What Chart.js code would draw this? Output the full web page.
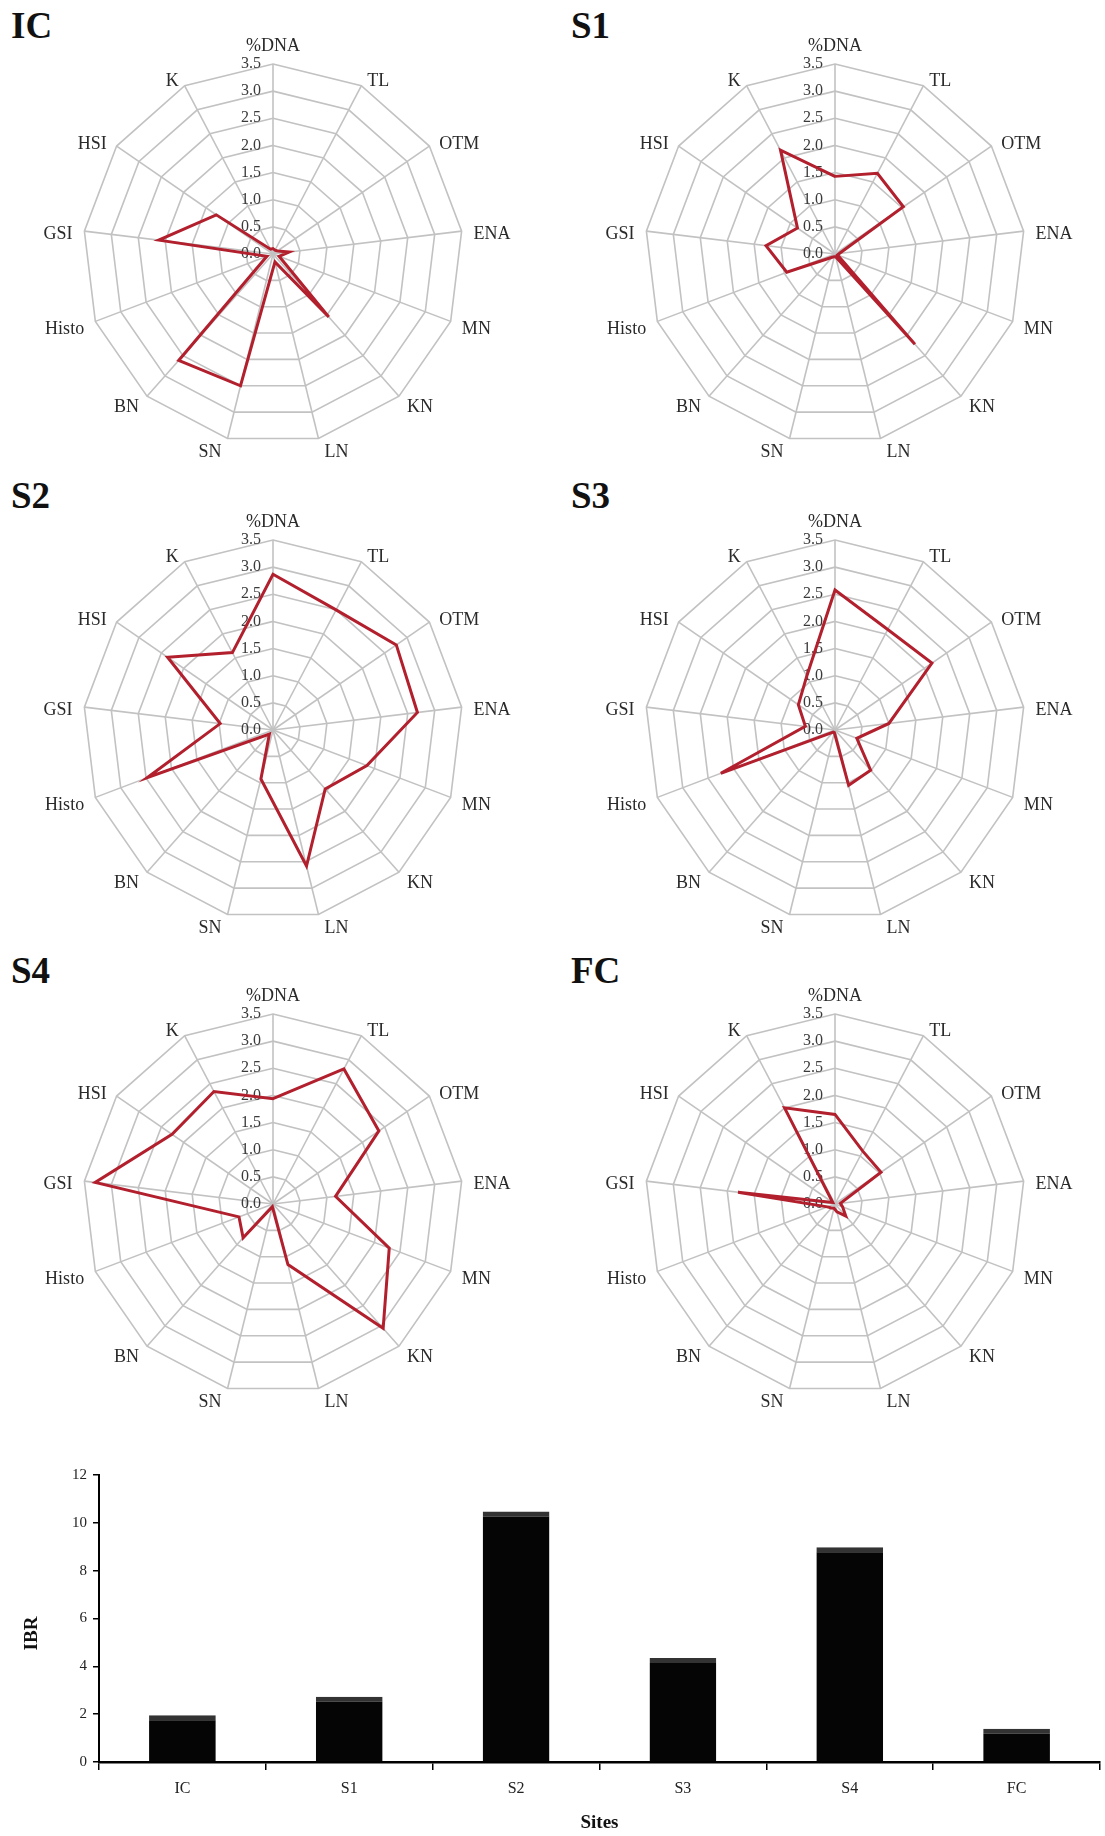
<!DOCTYPE html>
<html>
<head>
<meta charset="utf-8">
<script src="https://cdn.jsdelivr.net/npm/chart.js@4.4.1/dist/chart.umd.min.js"></script>
<style>
  body { margin: 0; background: #fff; }
  #page { position: relative; width: 1105px; height: 1836px; overflow: hidden; background: #fff; }
  canvas { position: absolute; }
  .tag { position: absolute; font: bold 37px "Liberation Serif", "Times New Roman", serif; line-height: 37px; color: #111; }
</style>
</head>
<body>
<div id="page">
  <div class="tag" style="left:11px;top:7px">IC</div>
  <div class="tag" style="left:571px;top:7px">S1</div>
  <div class="tag" style="left:11px;top:477px">S2</div>
  <div class="tag" style="left:571px;top:477px">S3</div>
  <div class="tag" style="left:11px;top:952px">S4</div>
  <div class="tag" style="left:571px;top:952px">FC</div>

  <canvas id="rIC" width="552" height="476" style="left:0;top:0"></canvas>
  <canvas id="rS1" width="553" height="476" style="left:552px;top:0"></canvas>
  <canvas id="rS2" width="552" height="476" style="left:0;top:476px"></canvas>
  <canvas id="rS3" width="553" height="476" style="left:552px;top:476px"></canvas>
  <canvas id="rS4" width="552" height="476" style="left:0;top:952px"></canvas>
  <canvas id="rFC" width="553" height="476" style="left:552px;top:952px"></canvas>

  <canvas id="ibr" width="1105" height="396" style="left:0;top:1440px"></canvas>
</div>
<script>
// radar axes (biomarkers), clockwise from the top
const axes = ['%DNA', 'TL', 'OTM', 'ENA', 'MN', 'KN', 'LN', 'SN', 'BN', 'Histo', 'GSI', 'HSI', 'K'];
const rTicks = [0, 0.5, 1, 1.5, 2, 2.5, 3, 3.5];

// star plot values per site (same order as axes)
const IC = [0.10, 0.08, 0.10, 0.30, 0.12, 1.55, 0.15, 2.50, 2.62, 0.12, 2.12, 1.27, 0.10];
const S1 = [1.43, 1.68, 1.53, 0.08, 0.05, 2.22, 0.05, 0.05, 0.08, 0.95, 1.28, 0.84, 2.16];
const S2 = [2.87, 2.50, 2.76, 2.68, 1.85, 1.45, 2.58, 0.93, 0.10, 2.48, 0.98, 2.36, 1.61];
const S3 = [2.58, 2.09, 2.17, 1.00, 0.43, 0.99, 1.05, 0.05, 0.05, 2.25, 0.55, 0.82, 1.12];
const S4 = [1.94, 2.81, 2.37, 1.16, 2.29, 3.06, 1.15, 0.05, 0.83, 0.67, 3.30, 2.26, 2.34];
const FC = [1.65, 1.10, 1.03, 0.10, 0.15, 0.30, 0.15, 0.08, 0.10, 0.15, 1.80, 0.05, 2.00];

// IBR bar chart
const sites = ['IC', 'S1', 'S2', 'S3', 'S4', 'FC'];
const ibr = [1.95, 2.73, 10.47, 4.35, 8.98, 1.39];

const serif = '"Liberation Serif", "Times New Roman", serif';

// tick values on the vertical axis and the axis names round the web
const radarText = {
  id: 'radarText',
  beforeDatasetsDraw(chart) {
    const r = chart.scales.r;
    const ctx = chart.ctx;
    ctx.save();
    ctx.fillStyle = '#3a3a3a';
    ctx.font = '16px ' + serif;
    ctx.textAlign = 'right';
    ctx.textBaseline = 'middle';
    rTicks.forEach(v => {
      const d = r.getDistanceFromCenterForValue(v);
      ctx.fillText(v.toFixed(1), r.xCenter - 12, r.yCenter - d);
    });

    ctx.font = '18px ' + serif;
    ctx.fillStyle = '#2a2a2a';
    axes.forEach((name, i) => {
      const end = r.getPointPosition(i, r.drawingArea);
      const a = r.getIndexAngle(i);
      const sx = Math.sin(a);
      let x = end.x;
      let y = end.y - 10 * Math.cos(a) + 4;
      if (i === 0) y = end.y - 18;
      if (sx > 0.05) {
        ctx.textAlign = 'left';
        x += Math.max(12 * sx, 6);
      } else if (sx < -0.05) {
        ctx.textAlign = 'right';
        x -= Math.max(-12 * sx, 6);
      } else {
        ctx.textAlign = 'center';
      }
      ctx.fillText(name, x, y);
    });
    ctx.restore();
  }
};

function drawRadar(id, values, pad) {
  new Chart(document.getElementById(id), {
    type: 'radar',
    data: {
      labels: axes,
      datasets: [{
        data: values,
        borderColor: '#b21f2d',
        borderWidth: 3,
        pointRadius: 0,
        fill: false,
        tension: 0
      }]
    },
    options: {
      responsive: false,
      animation: false,
      devicePixelRatio: 1,
      layout: { padding: pad },
      plugins: { legend: { display: false }, tooltip: { enabled: false } },
      scales: {
        r: {
          min: 0,
          max: 3.5,
          ticks: { stepSize: 0.5, display: false },
          grid: { color: '#c2c2c2', lineWidth: 1.6 },
          angleLines: { color: '#c2c2c2', lineWidth: 1.6 },
          pointLabels: { display: false }
        }
      }
    },
    plugins: [radarText]
  });
}

// padding puts each web centre where it sits in the figure (radius 190)
drawRadar('rIC', IC, { left: 83, right: 89, top: 64, bottom: 32 });
drawRadar('rS1', S1, { left: 93, right: 80, top: 64, bottom: 32 });
drawRadar('rS2', S2, { left: 83, right: 89, top: 64, bottom: 32 });
drawRadar('rS3', S3, { left: 93, right: 80, top: 64, bottom: 32 });
drawRadar('rS4', S4, { left: 83, right: 89, top: 62, bottom: 34 });
drawRadar('rFC', FC, { left: 93, right: 80, top: 62, bottom: 34 });

// y title sits a little below the middle of the axis in the figure
const ibrTitle = {
  id: 'ibrTitle',
  afterDraw(chart) {
    const ctx = chart.ctx;
    const area = chart.chartArea;
    ctx.save();
    ctx.translate(32, (area.top + area.bottom) / 2 + 15);
    ctx.rotate(-Math.PI / 2);
    ctx.font = 'bold 19px ' + serif;
    ctx.fillStyle = '#111';
    ctx.textAlign = 'center';
    ctx.textBaseline = 'middle';
    ctx.fillText('IBR', 0, 0);
    ctx.restore();
  }
};

new Chart(document.getElementById('ibr'), {
  type: 'bar',
  data: {
    labels: sites,
    datasets: [{
      data: ibr,
      backgroundColor: '#050505',
      borderColor: '#333333',
      borderWidth: { top: 5, left: 0, right: 0, bottom: 0 },
      borderSkipped: false,
      categoryPercentage: 1,
      barPercentage: 0.4
    }]
  },
  options: {
    responsive: false,
    animation: false,
    devicePixelRatio: 1,
    layout: { padding: { top: 35, right: 5, left: 0, bottom: 0 } },
    plugins: { legend: { display: false }, tooltip: { enabled: false } },
    scales: {
      x: {
        grid: { drawOnChartArea: false, drawTicks: true, tickLength: 8, tickColor: '#000', lineWidth: 1.5 },
        border: { color: '#000', width: 2.5 },
        ticks: { color: '#222', font: { family: serif, size: 16 }, padding: 9 },
        title: { display: true, text: 'Sites', color: '#111', font: { family: serif, size: 19, weight: 'bold' }, padding: { top: 0, bottom: 2 } },
        afterFit: s => { s.height = 74; }
      },
      y: {
        min: 0,
        max: 12,
        ticks: { stepSize: 2, color: '#222', font: { family: serif, size: 15 }, padding: 6 },
        grid: { drawOnChartArea: false, drawTicks: true, tickLength: 6, tickColor: '#000', lineWidth: 1.5 },
        border: { color: '#000', width: 2 },
        afterFit: s => { s.width = 99; }
      }
    }
  },
  plugins: [ibrTitle]
});
</script>
</body>
</html>
